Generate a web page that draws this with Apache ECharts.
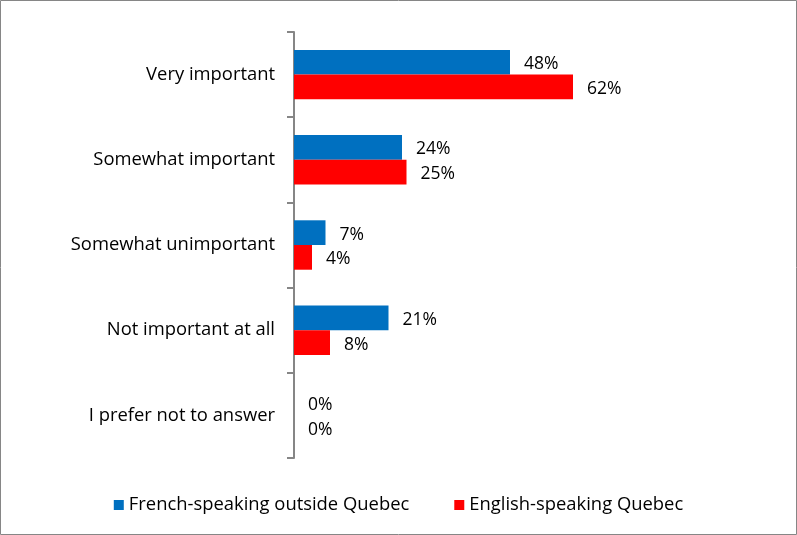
<!DOCTYPE html>
<html><head><meta charset="utf-8">
<script src="https://cdn.jsdelivr.net/npm/echarts@6/dist/echarts.min.js"></script>
<style>html,body{margin:0;padding:0;background:#fff}#c{width:797px;height:535px}</style>
</head><body><div id="c"></div>
<script>
const categories = ["Very important","Somewhat important","Somewhat unimportant","Not important at all","I prefer not to answer"];
const frenchOutsideQuebec = [48,24,7,21,0];
const englishQuebec = [62,25,4,8,0];
const seriesNames = ["French-speaking outside Quebec","English-speaking Quebec"];
const FONT = "'Open Sans', 'Liberation Sans', sans-serif";
const chart = echarts.init(document.getElementById('c'), null, {renderer:'canvas'});
const lbl = {show:true, position:'right', distance:14, offset:[0,2], formatter:'{c}%', color:'#000', fontSize:17.5, fontFamily:FONT};
chart.setOption({
  animation:false,
  graphic:[{type:'rect', shape:{x:0.5,y:0.5,width:796,height:534}, style:{fill:'none', stroke:'#868686', lineWidth:1}}],
  grid:{left:294, top:32, width:450, height:426},
  legend:{top:491, left:'center', itemWidth:10, itemHeight:10, itemGap:45, icon:'rect',
    textStyle:{fontSize:18.4, color:'#000', fontFamily:FONT}, data:seriesNames},
  xAxis:{type:'value', min:0, max:100, show:false},
  yAxis:{type:'category', inverse:true, data:categories,
    axisLine:{show:true, lineStyle:{color:'#868686', width:2}},
    axisTick:{show:true, length:7, alignWithLabel:false, lineStyle:{color:'#868686', width:2}},
    axisLabel:{margin:19, fontSize:18.4, color:'#000', fontFamily:FONT}},
  series:[
    {name:seriesNames[0], type:'bar', data:frenchOutsideQuebec, itemStyle:{color:'#0070C0'}, barGap:'0%', barCategoryGap:'42%', label:lbl},
    {name:seriesNames[1], type:'bar', data:englishQuebec, itemStyle:{color:'#FF0000'}, barGap:'0%', barCategoryGap:'42%', label:lbl}
  ]
});
</script></body></html>
